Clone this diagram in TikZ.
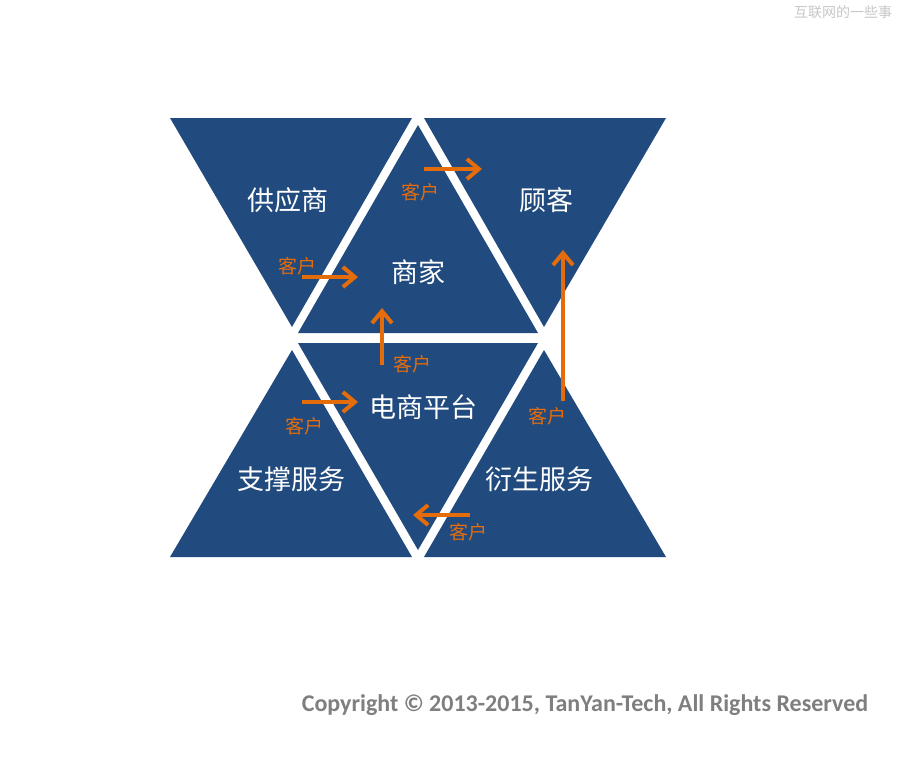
\documentclass[tikz,border=0pt]{standalone}
\usepackage{fontspec}
\setmainfont{Carlito}
\newfontfamily\cjk{Noto Sans CJK SC}
\usepackage{tikz}
\usetikzlibrary{arrows.meta}
\definecolor{triblue}{HTML}{214A7E}
\definecolor{flow}{HTML}{E46C0A}
\definecolor{note}{HTML}{7F7F7F}

\begin{document}
\begin{tikzpicture}[x=1pt,y=-1pt,
  tri/.style={fill=triblue},
  role/.style={text=white,font=\cjk\fontsize{27}{31}\selectfont},
  cust/.style={text=flow,font=\cjk\fontsize{19}{22}\selectfont,inner sep=0pt},
  flowarrow/.style={draw=flow,line width=4pt,-{Straight Barb[length=12pt,width=20pt]}}]
\useasboundingbox[fill=white] (0,0) rectangle (898,758);
% upper row
\fill[tri] (170,118) -- (412,118) -- (292,327) -- cycle;
\fill[tri] (418,125) -- (298,333) -- (538,333) -- cycle;
\fill[tri] (424,118) -- (666,118) -- (544,327) -- cycle;
% lower row
\fill[tri] (298,343) -- (538,343) -- (418,550) -- cycle;
\fill[tri] (292,350) -- (170,557) -- (412,557) -- cycle;
\fill[tri] (544,350) -- (424,557) -- (666,557) -- cycle;
% roles
\node[role] (supplier) at (288,200) {供应商};
\node[role] (buyer) at (546,200) {顾客};
\node[role] (merchant) at (418,272) {商家};
\node[role] (platform) at (423,407) {电商平台};
\node[role] (support) at (291,479) {支撑服务};
\node[role] (derived) at (539,479) {衍生服务};
% customer flows
\coordinate (a1s) at (302,277); \coordinate (a1e) at (358,277);
\coordinate (a2s) at (424,169); \coordinate (a2e) at (482,169);
\coordinate (a3s) at (382,365); \coordinate (a3e) at (382,308);
\coordinate (a4s) at (563,401); \coordinate (a4e) at (563,250);
\coordinate (a5s) at (302,402); \coordinate (a5e) at (358,402);
\coordinate (a6s) at (470,515); \coordinate (a6e) at (413,515);
\draw[flowarrow] (a1s) -- (a1e);
\draw[flowarrow] (a2s) -- (a2e);
\draw[flowarrow] (a3s) -- (a3e);
\draw[flowarrow] (a4s) -- (a4e);
\draw[flowarrow] (a5s) -- (a5e);
\draw[flowarrow] (a6s) -- (a6e);
\node[cust] (c1) at (297,266) {客户};
\node[cust] (c2) at (420,192) {客户};
\node[cust] (c3) at (412,364) {客户};
\node[cust] (c4) at (547,416) {客户};
\node[cust] (c5) at (304,426) {客户};
\node[cust] (c6) at (468,532) {客户};
% marks
\node[text=black!22,font=\cjk\fontsize{14}{16}\selectfont] (brand) at (843,12) {互联网的一些事};
\node[text=note,font=\bfseries\fontsize{24}{28}\selectfont] (copyright) at (585,705) {Copyright © 2013-2015, TanYan-Tech, All Rights Reserved};
\end{tikzpicture}
\end{document}
